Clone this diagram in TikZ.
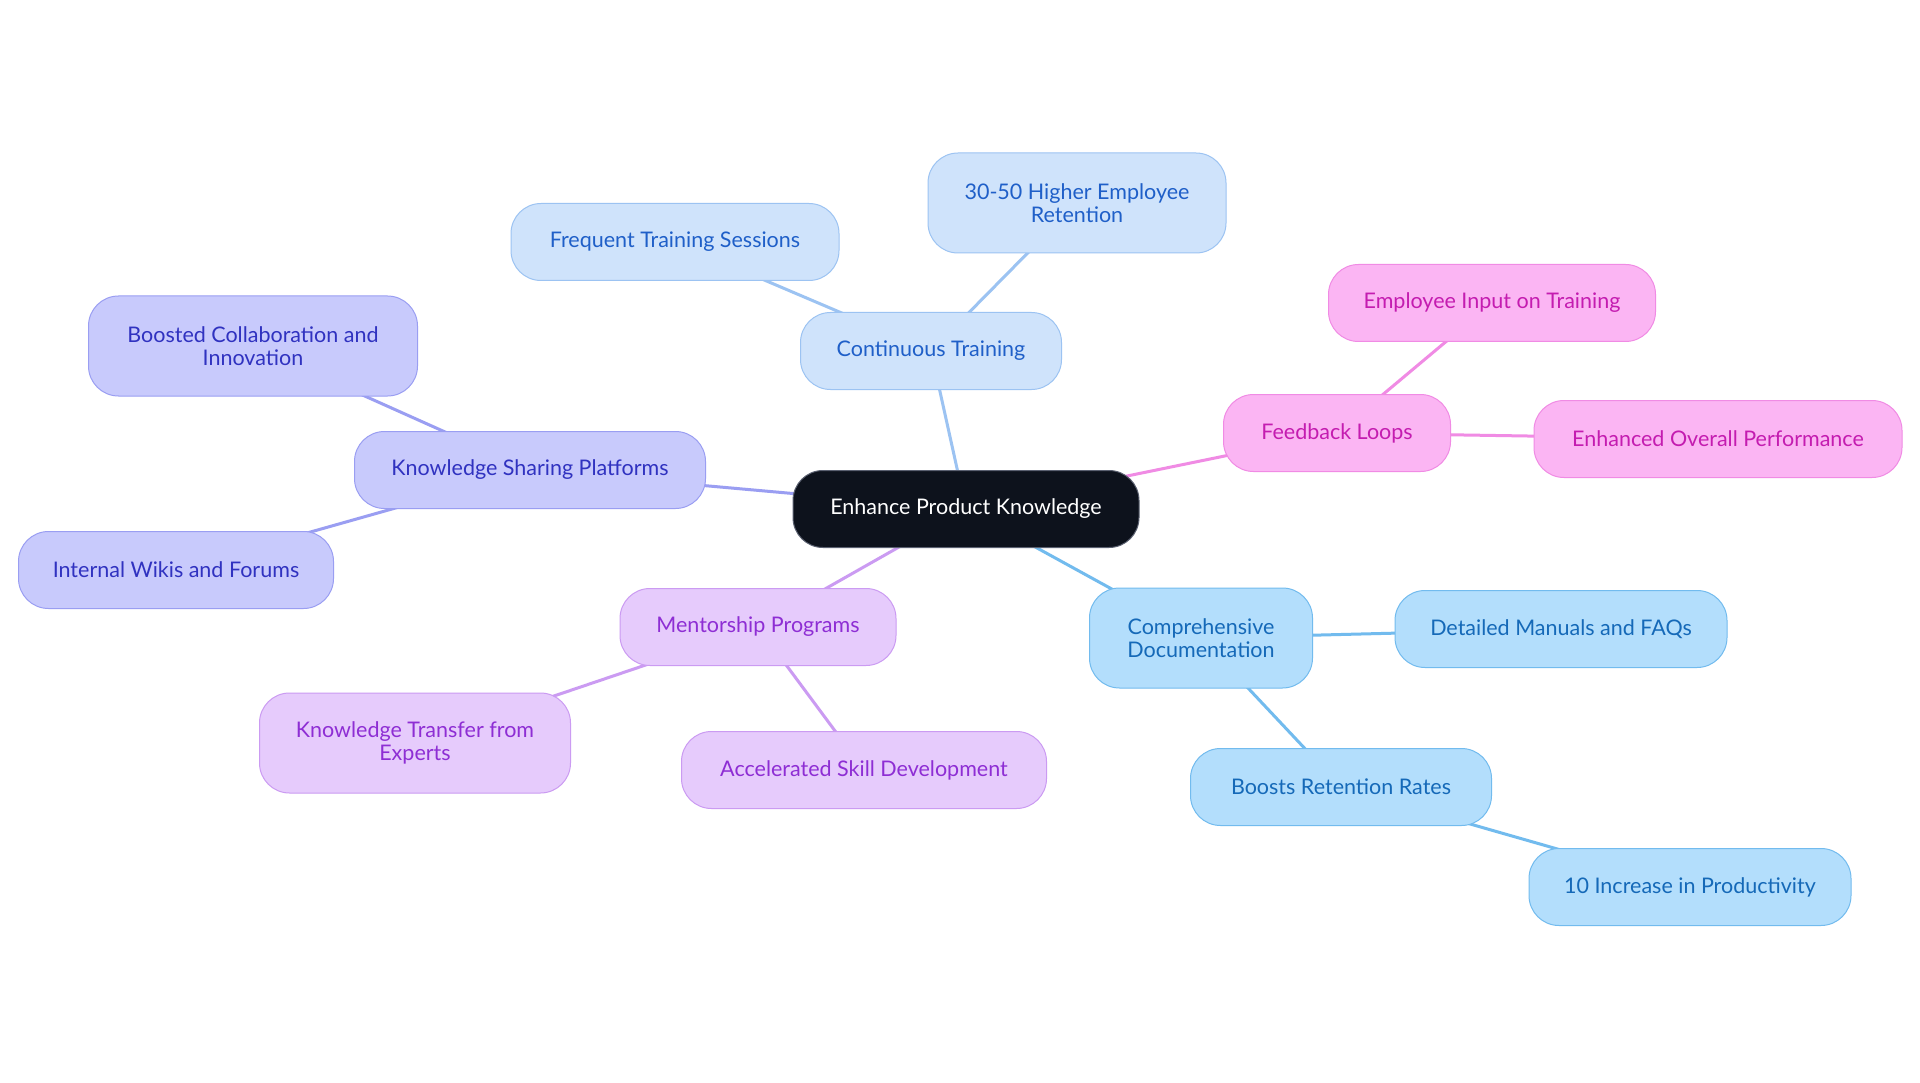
\documentclass[tikz,border=0pt]{standalone}
\usepackage{fontspec}
\setmainfont{Lato}
\usetikzlibrary{backgrounds}
\definecolor{ctrfill}{HTML}{0D121C}
\definecolor{ctrdraw}{HTML}{5A6070}
\definecolor{bAfill}{HTML}{CFE3FB}
\definecolor{bAdraw}{HTML}{9CC3F2}
\definecolor{bAtext}{HTML}{1F5FC8}
\definecolor{bBfill}{HTML}{B3DEFC}
\definecolor{bBdraw}{HTML}{72BBEE}
\definecolor{bBtext}{HTML}{1569B8}
\definecolor{pkfill}{HTML}{FBB5F3}
\definecolor{pkdraw}{HTML}{F08BE4}
\definecolor{pktext}{HTML}{C41CB0}
\definecolor{infill}{HTML}{C8CAFC}
\definecolor{indraw}{HTML}{9A9EF2}
\definecolor{intext}{HTML}{3032C0}
\definecolor{pufill}{HTML}{E6CBFC}
\definecolor{pudraw}{HTML}{CB9BF2}
\definecolor{putext}{HTML}{8E2ED4}
\tikzset{
  box/.style={rounded corners=30pt, minimum height=77pt, align=center, line width=1pt,
    inner sep=0pt, font=\fontsize{21.5}{23}\selectfont},
  tall/.style={minimum height=100pt},
  ctr/.style={box, fill=ctrfill, draw=ctrdraw, text=white},
  bA/.style={box, fill=bAfill, draw=bAdraw, text=bAtext},
  bB/.style={box, fill=bBfill, draw=bBdraw, text=bBtext},
  pk/.style={box, fill=pkfill, draw=pkdraw, text=pktext},
  ind/.style={box, fill=infill, draw=indraw, text=intext},
  pu/.style={box, fill=pufill, draw=pudraw, text=putext},
  link/.style={line width=3pt},
}
\begin{document}
\begin{tikzpicture}[x=1pt, y=-1pt]
\useasboundingbox (0,0) rectangle (1920,1083);
% center
\node[ctr, minimum width=346pt] (c) at (966,509) {Enhance Product Knowledge};
% continuous training group
\node[bA, minimum width=261pt] (ct) at (931,351) {Continuous Training};
\node[bA, minimum width=328pt] (fts) at (675,242) {Frequent Training Sessions};
\node[bA, tall, minimum width=298pt] (her) at (1077,203) {30-50 Higher Employee\\Retention};
% feedback group
\node[pk, minimum width=227pt] (fl) at (1337,433) {Feedback Loops};
\node[pk, minimum width=327pt] (eit) at (1492,303) {Employee Input on Training};
\node[pk, minimum width=368pt] (eop) at (1718,439) {Enhanced Overall Performance};
% documentation group
\node[bB, tall, minimum width=223pt] (cd) at (1201,638) {Comprehensive\\Documentation};
\node[bB, minimum width=332pt] (dmf) at (1561,629) {Detailed Manuals and FAQs};
\node[bB, minimum width=301pt] (brr) at (1341,787) {Boosts Retention Rates};
\node[bB, minimum width=322pt] (iip) at (1690,887) {10 Increase in Productivity};
% knowledge sharing group
\node[ind, minimum width=351pt] (ksp) at (530,470) {Knowledge Sharing Platforms};
\node[ind, tall, minimum width=329pt] (bci) at (253,346) {Boosted Collaboration and\\Innovation};
\node[ind, minimum width=315pt] (iwf) at (176,570) {Internal Wikis and Forums};
% mentorship group
\node[pu, minimum width=276pt] (mp) at (758,627) {Mentorship Programs};
\node[pu, tall, minimum width=311pt] (kte) at (415,743) {Knowledge Transfer from\\Experts};
\node[pu, minimum width=365pt] (asd) at (864,770) {Accelerated Skill Development};
% connectors
\begin{scope}[on background layer]
\fill[white] (0,0) rectangle (1920,1083);
\draw[link, bAdraw] (c.center) -- (ct.center);
\draw[link, bAdraw] (ct.center) -- (fts.center);
\draw[link, bAdraw] (ct.center) -- (her.center);
\draw[link, pkdraw] (c.center) -- (fl.center);
\draw[link, pkdraw] (fl.center) -- (eit.center);
\draw[link, pkdraw] (fl.center) -- (eop.center);
\draw[link, bBdraw] (c.center) -- (cd.center);
\draw[link, bBdraw] (cd.center) -- (dmf.center);
\draw[link, bBdraw] (cd.center) -- (brr.center);
\draw[link, bBdraw] (brr.center) -- (iip.center);
\draw[link, indraw] (c.center) -- (ksp.center);
\draw[link, indraw] (ksp.center) -- (bci.center);
\draw[link, indraw] (ksp.center) -- (iwf.center);
\draw[link, pudraw] (c.center) -- (mp.center);
\draw[link, pudraw] (mp.center) -- (kte.center);
\draw[link, pudraw] (mp.center) -- (asd.center);
\end{scope}
\end{tikzpicture}
\end{document}
